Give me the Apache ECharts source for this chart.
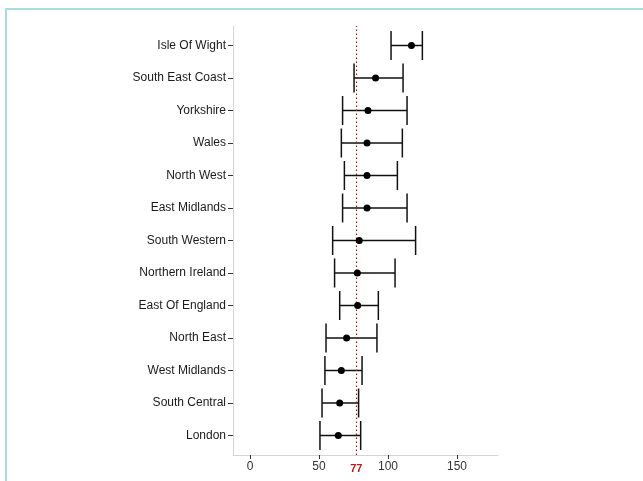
<!DOCTYPE html>
<html>
<head>
<meta charset="utf-8">
<script src="https://cdn.jsdelivr.net/npm/echarts@6/dist/echarts.min.js"></script>
<style>
html,body{margin:0;padding:0;background:#fff;}
#chart{width:643px;height:481px;}
</style>
</head>
<body>
<div id="chart"></div>
<script>
const regions = ["Isle Of Wight","South East Coast","Yorkshire","Wales","North West","East Midlands","South Western","Northern Ireland","East Of England","North East","West Midlands","South Central","London"];
const means = [117, 91, 85.5, 84.8, 84.8, 84.8, 79.2, 77.8, 78, 70, 66.2, 65, 64];
const lower = [102.2, 75.4, 67.1, 66.2, 68.4, 67.1, 59.9, 61.3, 65, 55.1, 54.3, 52.2, 50.7];
const upper = [124.9, 110.9, 113.8, 110.4, 106.8, 113.8, 120, 105.1, 93, 92, 81.2, 78.7, 80.2];
const xTicks = [0, 50, 100, 150];
const refValue = 77;

const idx = regions.map((_, i) => i);
const barData = idx.map(i => [i, lower[i], upper[i]]);
const pointData = idx.map(i => [means[i], i]);

const chart = echarts.init(document.getElementById('chart'), null, {renderer: 'canvas'});
const font = '"Liberation Sans", Arial, sans-serif';
chart.setOption({
  animation: false,
  backgroundColor: '#ffffff',
  graphic: [
    {type: 'rect', shape: {x: 5, y: 8, width: 2, height: 473}, style: {fill: '#a9dcdc'}},
    {type: 'rect', shape: {x: 5, y: 8, width: 638, height: 2}, style: {fill: '#a9dcdc'}}
  ],
  grid: {left: 233, right: 145, top: 26, bottom: 26, containLabel: false},
  xAxis: {
    type: 'value', min: -12.3, max: 179.7,
    splitLine: {show: false},
    axisLine: {show: true, onZero: false, lineStyle: {color: '#d4d4d4', width: 1}},
    axisTick: {show: true, length: 4, lineStyle: {color: '#333'}, customValues: xTicks},
    axisLabel: {show: true, customValues: xTicks, color: '#333', fontSize: 12, fontFamily: font, margin: 6}
  },
  yAxis: {
    type: 'value', min: -0.6, max: 12.6, inverse: true,
    splitLine: {show: false},
    axisLine: {show: true, onZero: false, lineStyle: {color: '#d4d4d4', width: 1}},
    axisTick: {show: true, length: 5, lineStyle: {color: '#333'}, customValues: idx},
    axisLabel: {show: true, customValues: idx, color: '#1a1a1a', fontSize: 12, fontFamily: font, margin: 7,
      formatter: v => regions[Math.round(v)] || ''}
  },
  series: [
    {
      type: 'custom',
      data: barData,
      encode: {x: [1, 2], y: 0},
      renderItem: function (params, api) {
        const i = api.value(0);
        const p1 = api.coord([api.value(1), i]);
        const p2 = api.coord([api.value(2), i]);
        const h = 14.5;
        const style = {stroke: '#111', lineWidth: 1.5};
        return {
          type: 'group',
          children: [
            {type: 'line', shape: {x1: p1[0], y1: p1[1], x2: p2[0], y2: p2[1]}, style: style},
            {type: 'line', shape: {x1: p1[0], y1: p1[1] - h, x2: p1[0], y2: p1[1] + h}, style: style},
            {type: 'line', shape: {x1: p2[0], y1: p2[1] - h, x2: p2[0], y2: p2[1] + h}, style: style}
          ]
        };
      },
      z: 2
    },
    {
      type: 'scatter',
      data: pointData,
      symbol: 'circle',
      symbolSize: 7,
      itemStyle: {color: '#000', opacity: 1},
      z: 4,
      markLine: {
        silent: true,
        symbol: 'none',
        lineStyle: {type: [1.5, 2.5], color: '#a01818', width: 1.2},
        label: {show: true, position: 'start', formatter: String(refValue), color: '#c01818',
          fontWeight: 'bold', fontSize: 11, fontFamily: font, distance: 8},
        data: [[{coord: [refValue, 12.6]}, {coord: [refValue, -0.6]}]],
        z: 3
      }
    }
  ]
});
</script>
</body>
</html>
